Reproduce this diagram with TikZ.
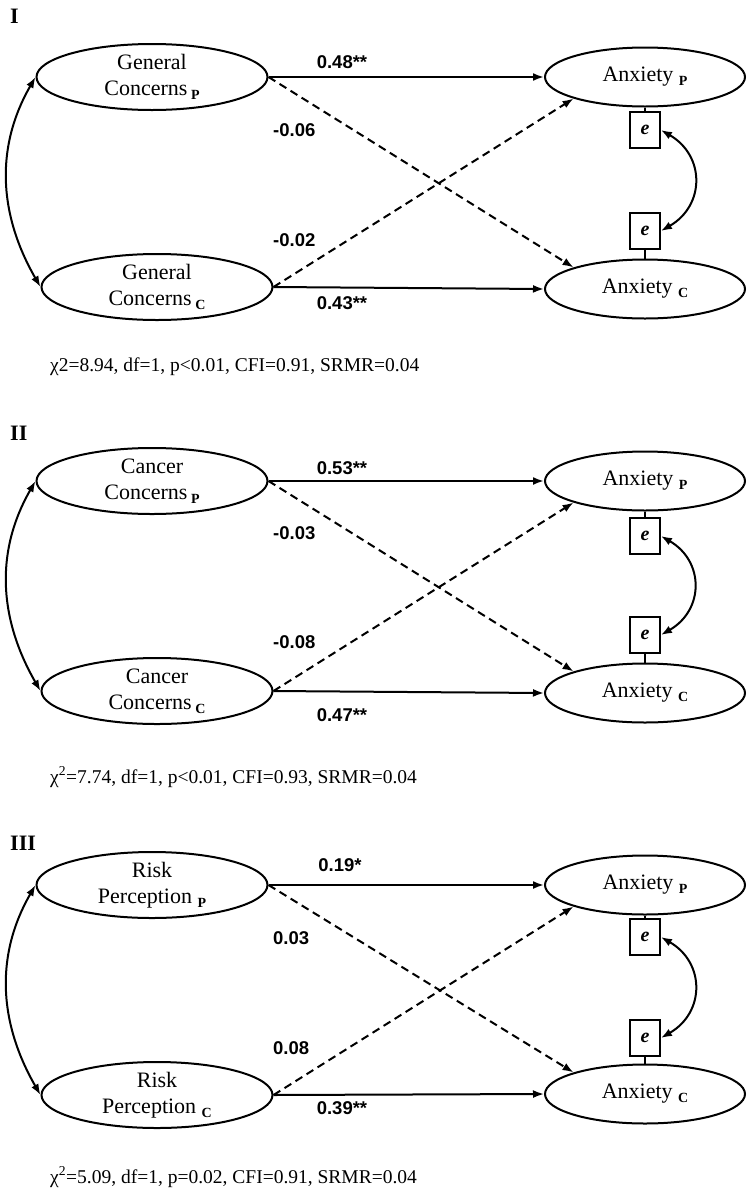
\documentclass[tikz,border=0pt]{standalone}
\usepackage{fontspec}
\setmainfont{Liberation Serif}
\newfontfamily\coeffont{Liberation Sans}
\usetikzlibrary{shapes.geometric,arrows.meta}

\newcommand\subtag[1]{\raisebox{-4pt}{\fontsize{14}{14}\selectfont\bfseries #1}}

\tikzset{
  tip/.tip={Latex[length=11pt,width=8pt]},
  latent/.style={draw, ellipse, line width=2pt, inner sep=0pt, align=center,
    font=\fontsize{22}{26}\selectfont},
  predictor/.style={latent, minimum width=231pt, minimum height=66pt},
  outcome/.style={latent, minimum width=200pt, minimum height=59pt},
  errbox/.style={draw, rectangle, line width=1.8pt, minimum width=30pt, minimum height=36pt,
    inner sep=0pt, font=\fontsize{20}{20}\selectfont\bfseries\itshape},
  coef/.style={inner sep=0pt, font=\coeffont\bfseries\fontsize{18.5}{19}\selectfont},
  effect/.style={-tip, line width=2pt},
  crosseffect/.style={effect, dash pattern=on 8pt off 5pt},
  covar/.style={tip-tip, line width=2pt},
  fitstat/.style={anchor=west, inner sep=0pt, font=\fontsize{19.5}{21}\selectfont},
  panellabel/.style={anchor=west, inner sep=0pt, font=\fontsize{22}{22}\selectfont\bfseries},
}

\begin{document}
\begin{tikzpicture}[x=1pt, y=-1pt]
  \useasboundingbox (0,0) rectangle (749,1192);

  % panel I
  \node[panellabel] (nI) at (10,16) {I};
  \node[predictor] (xP1) at (152,77) {General\\Concerns\,\subtag{P}};
  \node[predictor] (xC1) at (157,287) {General\\Concerns\,\subtag{C}};
  \node[outcome] (aP1) at (645,77) {Anxiety \subtag{P}};
  \node[outcome] (aC1) at (645,289) {Anxiety \subtag{C}};
  \node[errbox] (eP1) at (645,130) {e};
  \node[errbox] (eC1) at (645,231) {e};
  \draw[effect] (xP1.east) -- (aP1.west);
  \draw[crosseffect] (xP1.east) -- (aC1.north west);
  \draw[crosseffect] (xC1.east) -- (aP1.south west);
  \draw[effect] (xC1.east) -- (aC1.west);
  \draw[covar] (xP1.west) to[out=-120,in=120] (xC1.west);
  \draw[line width=1.8pt] (aP1.south) -- (eP1.north);
  \draw[line width=1.8pt] (eC1.south) -- (aC1.north);
  \draw[covar] (eP1.east) to[out=-30,in=30,looseness=1.3] (eC1.east);
  \node[coef] (bP1) at (342,62) {0.48**};
  \node[coef, anchor=west] (cP1) at (273,130) {-0.06};
  \node[coef, anchor=west] (cC1) at (273,240) {-0.02};
  \node[coef] (bC1) at (342,303) {0.43**};
  \node[fitstat] (f1) at (50,367) {χ2=8.94, df=1, p<0.01, CFI=0.91, SRMR=0.04};

  % panel II
  \begin{scope}[yshift=-404pt]
    \node[panellabel] (nII) at (10,29) {II};
    \node[predictor] (xP2) at (152,77) {Cancer\\Concerns\,\subtag{P}};
    \node[predictor] (xC2) at (157,287) {Cancer\\Concerns\,\subtag{C}};
    \node[outcome] (aP2) at (645,77) {Anxiety \subtag{P}};
    \node[outcome] (aC2) at (645,289) {Anxiety \subtag{C}};
    \node[errbox] (eP2) at (645,132) {e};
    \node[errbox] (eC2) at (645,231) {e};
    \draw[effect] (xP2.east) -- (aP2.west);
    \draw[crosseffect] (xP2.east) -- (aC2.north west);
    \draw[crosseffect] (xC2.east) -- (aP2.south west);
    \draw[effect] (xC2.east) -- (aC2.west);
    \draw[covar] (xP2.west) to[out=-120,in=120] (xC2.west);
    \draw[line width=1.8pt] (aP2.south) -- (eP2.north);
    \draw[line width=1.8pt] (eC2.south) -- (aC2.north);
    \draw[covar] (eP2.east) to[out=-30,in=30,looseness=1.3] (eC2.east);
    \node[coef] (bP2) at (342,64) {0.53**};
    \node[coef, anchor=west] (cP2) at (273,129) {-0.03};
    \node[coef, anchor=west] (cC2) at (273,238) {-0.08};
    \node[coef] (bC2) at (342,311) {0.47**};
    \node[fitstat] (f2) at (50,373) {χ\textsuperscript{2}=7.74, df=1, p<0.01, CFI=0.93, SRMR=0.04};
  \end{scope}

  % panel III
  \begin{scope}[yshift=-808pt]
    \node[panellabel] (nIII) at (10,35) {III};
    \node[predictor] (xP3) at (152,77) {Risk\\Perception \subtag{P}};
    \node[predictor] (xC3) at (157,287) {Risk\\Perception \subtag{C}};
    \node[outcome] (aP3) at (645,77) {Anxiety \subtag{P}};
    \node[outcome] (aC3) at (645,286) {Anxiety \subtag{C}};
    \node[errbox] (eP3) at (645,129) {e};
    \node[errbox] (eC3) at (645,230) {e};
    \draw[effect] (xP3.east) -- (aP3.west);
    \draw[crosseffect] (xP3.east) -- (aC3.north west);
    \draw[crosseffect] (xC3.east) -- (aP3.south west);
    \draw[effect] (xC3.east) -- (aC3.west);
    \draw[covar] (xP3.west) to[out=-120,in=120] (xC3.west);
    \draw[line width=1.8pt] (aP3.south) -- (eP3.north);
    \draw[line width=1.8pt] (eC3.south) -- (aC3.north);
    \draw[covar] (eP3.east) to[out=-30,in=30,looseness=1.3] (eC3.east);
    \node[coef] (bP3) at (340,57) {0.19*};
    \node[coef, anchor=west] (cP3) at (273,130) {0.03};
    \node[coef, anchor=west] (cC3) at (273,240) {0.08};
    \node[coef] (bC3) at (342,300) {0.39**};
    \node[fitstat] (f3) at (50,369) {χ\textsuperscript{2}=5.09, df=1, p=0.02, CFI=0.91, SRMR=0.04};
  \end{scope}
\end{tikzpicture}
\end{document}
